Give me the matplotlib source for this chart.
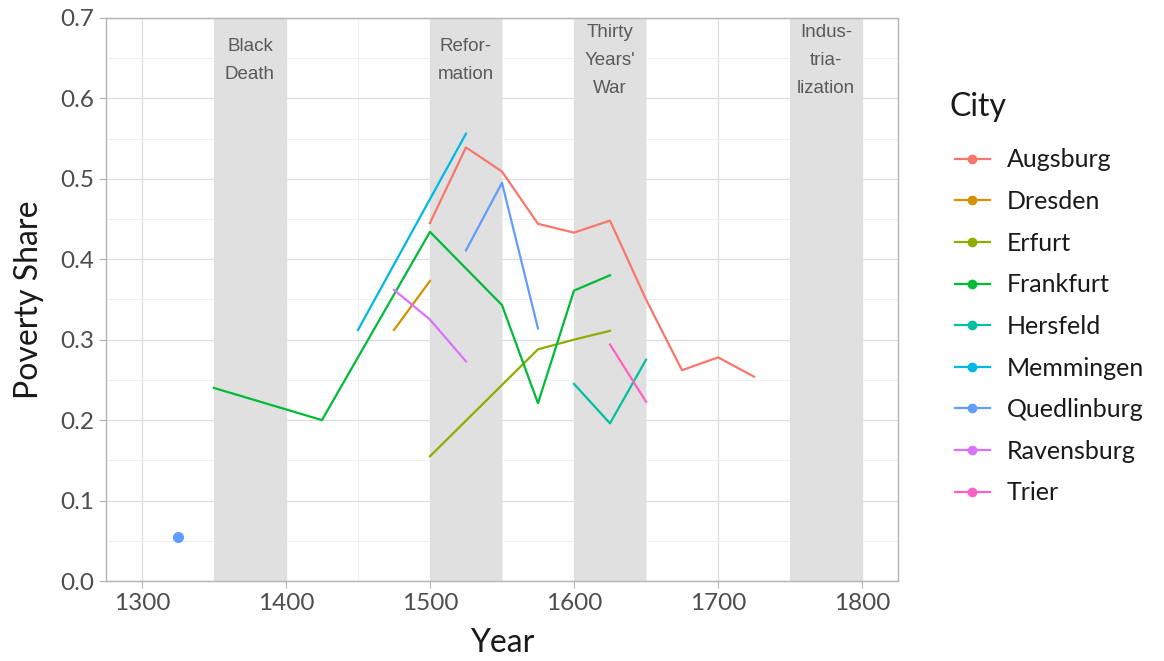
import matplotlib.pyplot as plt
from matplotlib.lines import Line2D
from matplotlib.ticker import MultipleLocator

plt.rcParams['font.family'] = ['Lato', 'DejaVu Sans']

# poverty shares per city (year, share)
augsburg_years = [1500, 1525, 1550, 1575, 1600, 1625, 1650, 1675, 1700, 1725]
augsburg_share = [0.445, 0.539, 0.509, 0.444, 0.433, 0.448, 0.350, 0.262, 0.278, 0.254]
dresden_years = [1475, 1500]
dresden_share = [0.312, 0.373]
erfurt_years = [1500, 1575, 1600, 1625]
erfurt_share = [0.155, 0.288, 0.300, 0.311]
frankfurt_years = [1350, 1425, 1500, 1550, 1575, 1600, 1625]
frankfurt_share = [0.240, 0.200, 0.434, 0.343, 0.221, 0.361, 0.380]
hersfeld_years = [1600, 1625, 1650]
hersfeld_share = [0.245, 0.196, 0.275]
memmingen_years = [1450, 1525]
memmingen_share = [0.312, 0.556]
quedlinburg_years = [1325, 1525, 1550, 1575]
quedlinburg_share = [0.055, 0.411, 0.495, 0.314]
ravensburg_years = [1475, 1500, 1525]
ravensburg_share = [0.362, 0.325, 0.273]
trier_years = [1625, 1650]
trier_share = [0.294, 0.223]

cities = ['Augsburg', 'Dresden', 'Erfurt', 'Frankfurt', 'Hersfeld',
          'Memmingen', 'Quedlinburg', 'Ravensburg', 'Trier']
colors = ['#F8766D', '#D39200', '#93AA00', '#00BA38', '#00C19F',
          '#00B9E3', '#619CFF', '#DB72FB', '#FF61C3']
series = [
    (augsburg_years, augsburg_share),
    (dresden_years, dresden_share),
    (erfurt_years, erfurt_share),
    (frankfurt_years, frankfurt_share),
    (hersfeld_years, hersfeld_share),
    (memmingen_years, memmingen_share),
    (quedlinburg_years, quedlinburg_share),
    (ravensburg_years, ravensburg_share),
    (trier_years, trier_share),
]

# historical periods shaded in the background
periods = [(1350, 1400), (1500, 1550), (1600, 1650), (1750, 1800)]
period_labels = ['Black\nDeath', 'Refor-\nmation', 'Thirty\nYears\'\nWar', 'Indus-\ntria-\nlization']


def runs(xs, ys, max_gap=100):
    # break a series wherever records are more than max_gap years apart
    out, cur = [], [[xs[0]], [ys[0]]]
    for i in range(1, len(xs)):
        if xs[i] - xs[i - 1] > max_gap:
            out.append(cur)
            cur = [[], []]
        cur[0].append(xs[i])
        cur[1].append(ys[i])
    out.append(cur)
    return out


fig = plt.figure(figsize=(11.64, 6.61), dpi=100)
ax = fig.add_axes([0.091, 0.121, 0.6805, 0.852])

for (a, b), lab in zip(periods, period_labels):
    ax.axvspan(a, b, color='#e0e0e0', lw=0, zorder=1)
    ax.text((a + b) / 2, 0.647, lab, ha='center', va='center', fontsize=13.5,
            color='#5a5a5a', family=['Liberation Sans'], linespacing=1.85, zorder=2)

for (xs, ys), c in zip(series, colors):
    for rx, ry in runs(xs, ys):
        if len(rx) == 1:
            ax.plot(rx, ry, 'o', color=c, ms=7, zorder=3)
        else:
            ax.plot(rx, ry, color=c, lw=1.6, zorder=3)

ax.set_xlim(1275, 1825)
ax.set_ylim(0, 0.7)
ax.xaxis.set_major_locator(MultipleLocator(100))
ax.xaxis.set_minor_locator(MultipleLocator(50))
ax.yaxis.set_major_locator(MultipleLocator(0.1))
ax.yaxis.set_minor_locator(MultipleLocator(0.05))
ax.yaxis.set_major_formatter(plt.FuncFormatter(lambda v, p: f'{v:.1f}'))

ax.grid(which='major', color='#dedede', lw=0.9, zorder=0)
ax.grid(which='minor', color='#ececec', lw=0.6, zorder=0)
ax.set_axisbelow(True)
for s in ax.spines.values():
    s.set_color('#b3b3b3')
    s.set_linewidth(1.0)
ax.tick_params(which='major', colors='#b3b3b3', length=5, labelcolor='#4d4d4d', labelsize=17.5)
ax.tick_params(which='minor', length=0)

ax.set_xlabel('Year', fontsize=23, color='#1a1a1a', labelpad=10.5)
ax.set_ylabel('Poverty Share', fontsize=23, color='#1a1a1a', labelpad=11.5)

# legend title placed by hand so the gap to the first entry can be set
fig.text(0.816, 1 - 107 / 661, 'City', fontsize=23, color='#1a1a1a', va='center', ha='left')
handles = [Line2D([], [], color=c, lw=1.6, marker='o', ms=6) for c in colors]
leg = fig.legend(handles, cities, loc='upper left',
                 bbox_to_anchor=(0.805, 0.802), frameon=False, fontsize=18,
                 handlelength=1.4, handletextpad=0.68,
                 labelspacing=0.745, borderpad=0.2)
for t in leg.get_texts():
    t.set_color('#1a1a1a')

fig.savefig('out.png', dpi=100)
